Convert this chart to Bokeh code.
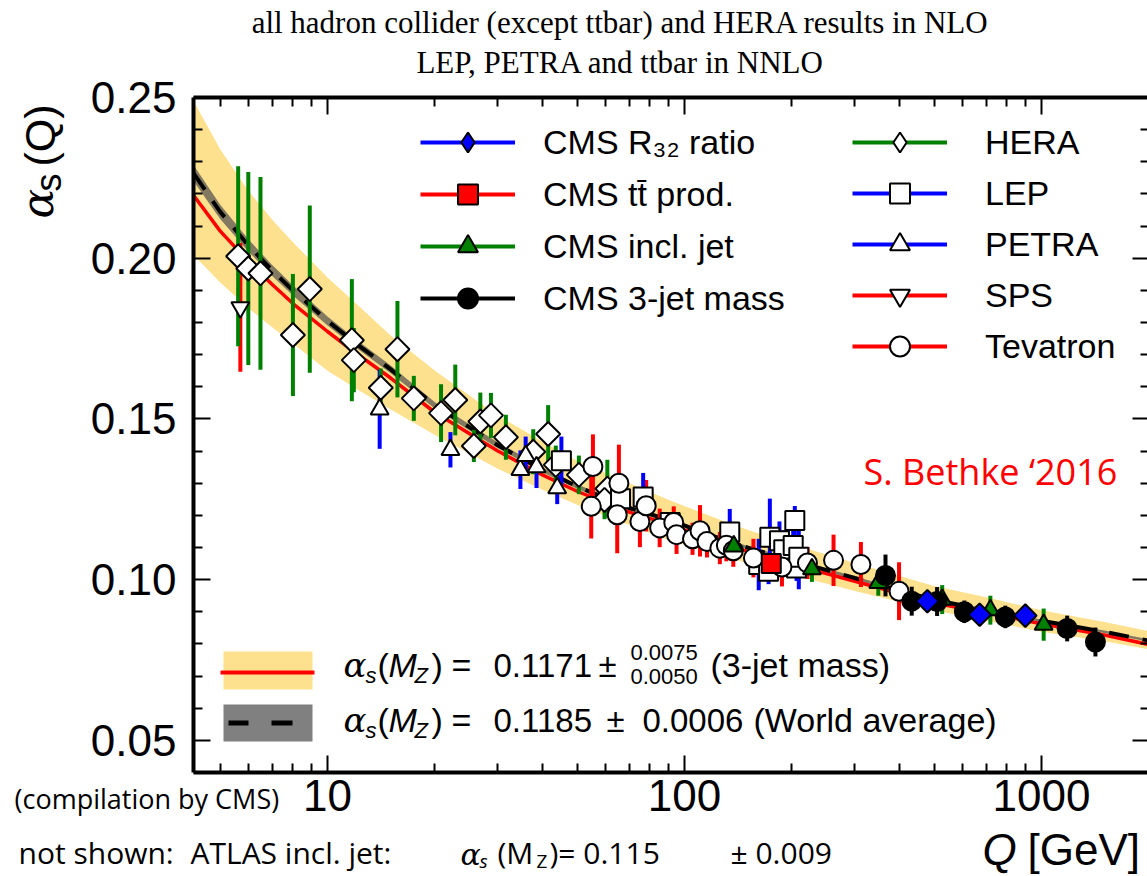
import math
import numpy as np
from bokeh.plotting import figure
from bokeh.models import (Range1d, FixedTicker, LogAxis, LinearAxis, PrintfTickFormatter,
                          Label, Legend, LegendItem, BoxAnnotation, ColumnDataSource)
from bokeh.embed import file_html
from bokeh.resources import INLINE

# ---------------- data ----------------
Q_curve = [4.213, 5, 6, 7, 8, 10, 12, 15, 20, 30, 40, 50, 70, 91.19, 120, 150, 200, 300, 500, 700, 1000, 1500, 2000]
fit_central = [0.2196, 0.2085, 0.1990, 0.1918, 0.1859, 0.1772, 0.1705, 0.1628, 0.1520, 0.1400, 0.1326, 0.1275,
               0.1210, 0.1171, 0.1122, 0.1088, 0.1048, 0.0995, 0.0927, 0.0897, 0.0863, 0.0828, 0.0798]
fit_hi = [0.2490, 0.2340, 0.2210, 0.2120, 0.2050, 0.1940, 0.1860, 0.1760, 0.1650, 0.1510, 0.1430, 0.1370,
          0.1300, 0.1246, 0.1195, 0.1155, 0.1110, 0.1052, 0.0980, 0.0945, 0.0905, 0.0868, 0.0840]
fit_lo = [0.2010, 0.1925, 0.1845, 0.1785, 0.1735, 0.1650, 0.1595, 0.1530, 0.1450, 0.1345, 0.1280, 0.1233,
          0.1170, 0.1121, 0.1082, 0.1052, 0.1015, 0.0965, 0.0905, 0.0872, 0.0838, 0.0808, 0.0783]
wa_central = [0.2265, 0.2145, 0.2040, 0.1962, 0.1900, 0.1805, 0.1735, 0.1655, 0.1542, 0.1418, 0.1342, 0.1290,
              0.1223, 0.1185, 0.1136, 0.1100, 0.1060, 0.1005, 0.0937, 0.0906, 0.0872, 0.0838, 0.0810]
wa_hi = [0.2290, 0.2167, 0.2059, 0.1979, 0.1916, 0.1819, 0.1748, 0.1667, 0.1552, 0.1427, 0.1350, 0.1297,
         0.1230, 0.1191, 0.1142, 0.1105, 0.1065, 0.1010, 0.0941, 0.0910, 0.0876, 0.0842, 0.0814]
wa_lo = [0.2240, 0.2123, 0.2021, 0.1945, 0.1884, 0.1791, 0.1722, 0.1643, 0.1532, 0.1409, 0.1334, 0.1283,
         0.1216, 0.1179, 0.1130, 0.1095, 0.1055, 0.1000, 0.0933, 0.0902, 0.0868, 0.0834, 0.0806]

hera_Q = [5.62, 6.0, 6.49, 8.0, 8.92, 11.7, 11.85, 15.7, 14.1, 17.45, 20.8, 22.8, 25.7, 26.8, 28.7, 31.6,
          37.7, 41.5, 43.6, 50.6, 60.8, 59.7]
hera_a = [0.2006, 0.1968, 0.1953, 0.1761, 0.1904, 0.1745, 0.1683, 0.1717, 0.1597, 0.1564, 0.1518, 0.1559,
          0.1416, 0.1492, 0.1511, 0.1443, 0.1398, 0.1453, 0.1357, 0.1326, 0.1283, 0.1248]
hera_e = [0.028, 0.030, 0.030, 0.019, 0.026, 0.019, 0.010, 0.015, 0.006, 0.007, 0.009, 0.011, 0.005, 0.009,
          0.007, 0.007, 0.007, 0.009, 0.006, 0.006, 0.009, 0.006]

petra_Q = [14.0, 22.1, 34.7, 35.9, 38.5, 44.0]
petra_a = [0.1530, 0.1404, 0.1342, 0.1385, 0.1350, 0.1285]
petra_e = [0.0123, 0.0055, 0.006, 0.006, 0.0065, 0.005]

sps_Q = [5.7]
sps_a = [0.1847]
sps_e = [0.020]

lep_Q = [45.2, 66.2, 76.6, 91.2, 133.9, 161.4, 173.4, 172.0, 184.5, 189.7, 201.6, 203.7, 206.0, 209.0]
lep_a = [0.1370, 0.1252, 0.1257, 0.1178, 0.1148, 0.1047, 0.1132, 0.1026, 0.1121, 0.1093, 0.1106, 0.1184,
         0.1036, 0.1070]
lep_e = [0.0075, 0.005, 0.0075, 0.002, 0.0072, 0.008, 0.012, 0.004, 0.006, 0.006, 0.006, 0.0045, 0.004, 0.010]

tev_Q = [54.8, 55.4, 64.8, 65.5, 75.0, 78.1, 85.2, 93.3, 95.0, 105.3, 110.5, 115.6, 125.6, 131.0, 137.0,
         156.0, 187.5, 221.0, 261.5, 312.0, 399.0]
tev_a = [0.1228, 0.1352, 0.1202, 0.1300, 0.1181, 0.1230, 0.1161, 0.1178, 0.1140, 0.1127, 0.1152, 0.1119,
         0.1098, 0.1107, 0.1090, 0.1067, 0.1039, 0.1052, 0.1060, 0.1047, 0.0964]
tev_e = [0.010, 0.010, 0.012, 0.012, 0.008, 0.008, 0.006, 0.005, 0.006, 0.005, 0.008, 0.005, 0.005, 0.005,
         0.005, 0.006, 0.006, 0.005, 0.008, 0.007, 0.009]

m3j_Q = [365.6, 433, 510, 608, 792, 1180, 1416]
m3j_a = [0.1013, 0.0933, 0.0932, 0.0900, 0.0884, 0.0848, 0.0806]
m3j_e = [0.0065, 0.0045, 0.0045, 0.0035, 0.0035, 0.004, 0.0045]

r32_Q = [479, 671, 901]
r32_a = [0.0933, 0.0891, 0.0888]
r32_e = [0.003, 0.003, 0.003]

incl_Q = [137.4, 227.5, 349, 527, 719, 1014]
incl_a = [0.1104, 0.1033, 0.0990, 0.0938, 0.0905, 0.0860]
incl_e = [0.004, 0.004, 0.004, 0.0045, 0.0045, 0.005]

tt_Q = [175]
tt_a = [0.1050]
tt_e = [0.003]

y_major = [0.05, 0.10, 0.15, 0.20, 0.25]
y_minor = [0.04, 0.06, 0.07, 0.08, 0.09, 0.11, 0.12, 0.13, 0.14, 0.16, 0.17, 0.18, 0.19, 0.21, 0.22, 0.23, 0.24]
x_major = [10, 100, 1000]
x_minor = [5, 6, 7, 8, 9, 20, 30, 40, 50, 60, 70, 80, 90, 200, 300, 400, 500, 600, 700, 800, 900, 2000]

# ---------------- geometry of the page ----------------
W, H = 1147, 876
AX_L, AX_T, AX_B = 193, 97, 772          # pixel positions of the left / top / bottom axes
PX_DECADE, PX_10 = 357.0, 327.0          # pixels per decade, pixel of Q=10
Y_LO, Y_HI = 0.04, 0.25                  # values at bottom / top axes
PX_PER_UNIT = (AX_B - AX_T) / (Y_HI - Y_LO)


def q_at(px):
    return 10 ** (1 + (px - PX_10) / PX_DECADE)


def a_at(py):
    return Y_HI + (AX_T - py) / PX_PER_UNIT


Q_LEFT = q_at(AX_L)
Q_RIGHT_AXIS = q_at(W + 2)

YEL = "#FDE18E"
GREEN = "#008000"
BLUE = "#0000FF"
RED = "#FF0000"

p = figure(width=W, height=H, x_axis_type="log",
           x_range=Range1d(q_at(0), q_at(W)), y_range=Range1d(a_at(H), a_at(0)),
           output_backend="svg", toolbar_location=None,
           min_border_left=0, min_border_top=0, min_border_bottom=0, min_border_right=0)
p.title.visible = False
p.xgrid.visible = False
p.ygrid.visible = False
p.outline_line_color = None
p.background_fill_color = "white"
p.border_fill_color = "white"


def style_axis(ax, show):
    ax.axis_line_width = 4
    ax.axis_line_color = "black"
    ax.major_tick_in = 17
    ax.major_tick_out = 0
    ax.minor_tick_in = 9
    ax.minor_tick_out = 0
    ax.major_tick_line_width = 2
    ax.minor_tick_line_width = 2
    ax.major_tick_line_color = "black"
    ax.minor_tick_line_color = "black"
    if show:
        ax.major_label_text_font = "Liberation Sans"
        ax.major_label_text_font_size = "44px"
        ax.major_label_text_color = "black"
    else:
        ax.major_label_text_font_size = "0px"
        ax.major_label_standoff = 0


for ax in p.xaxis:
    ax.ticker = FixedTicker(ticks=x_major, minor_ticks=x_minor)
    ax.formatter = PrintfTickFormatter(format="%d")
    style_axis(ax, True)
    ax.major_label_standoff = 7
    ax.fixed_location = Y_LO
    ax.bounds = (Q_LEFT, q_at(W + 10))
for ax in p.yaxis:
    ax.ticker = FixedTicker(ticks=y_major, minor_ticks=y_minor)
    ax.formatter = PrintfTickFormatter(format="%.2f")
    style_axis(ax, True)
    ax.major_label_standoff = 17
    ax.fixed_location = Q_LEFT
    ax.bounds = (Y_LO, Y_HI)

top_ax = LogAxis(ticker=FixedTicker(ticks=x_major, minor_ticks=x_minor), formatter=PrintfTickFormatter(format=" "))
style_axis(top_ax, False)
top_ax.fixed_location = Y_HI
top_ax.bounds = (Q_LEFT, q_at(W + 10))
p.add_layout(top_ax, "above")
right_ax = LinearAxis(ticker=FixedTicker(ticks=y_major, minor_ticks=y_minor), formatter=PrintfTickFormatter(format=" "))
style_axis(right_ax, False)
right_ax.fixed_location = Q_RIGHT_AXIS
right_ax.bounds = (Y_LO, Y_HI)
p.add_layout(right_ax, "right")

# ---------------- curves ----------------
p.varea(x=Q_curve, y1=fit_lo, y2=fit_hi, fill_color=YEL, fill_alpha=1.0, level="underlay")
p.varea(x=Q_curve, y1=wa_lo, y2=wa_hi, fill_color="#4d4d4d", fill_alpha=0.7, level="underlay")
p.line(x=Q_curve, y=fit_central, line_color=RED, line_width=3.5, level="underlay")
p.line(x=Q_curve, y=wa_central, line_color="black", line_width=4, line_dash="20 14", level="underlay")


# ---------------- data points ----------------
def src(q, a, e):
    a = np.array(a)
    e = np.array(e)
    return ColumnDataSource(dict(x=q, y=list(a), lo=list(a - e), hi=list(a + e)))


def bars(s, color):
    return p.segment(x0="x", y0="lo", x1="x", y1="hi", source=s, line_color=color, line_width=4)


def pts(s, marker, size, fill, angle=0.0):
    return p.scatter(x="x", y="y", source=s, marker=marker, size=size, fill_color=fill,
                     line_color="black", line_width=2, angle=angle)


s_tev = src(tev_Q, tev_a, tev_e)
s_lep = src(lep_Q, lep_a, lep_e)
s_petra = src(petra_Q, petra_a, petra_e)
s_sps = src(sps_Q, sps_a, sps_e)
s_hera = src(hera_Q, hera_a, hera_e)
s_incl = src(incl_Q, incl_a, incl_e)
s_tt = src(tt_Q, tt_a, tt_e)
s_m3j = src(m3j_Q, m3j_a, m3j_e)
s_r32 = src(r32_Q, r32_a, r32_e)

b_tev = bars(s_tev, RED)
b_lep = bars(s_lep, BLUE)
b_petra = bars(s_petra, BLUE)
b_sps = bars(s_sps, RED)
b_hera = bars(s_hera, GREEN)
b_incl = bars(s_incl, GREEN)
b_tt = bars(s_tt, RED)
b_m3j = bars(s_m3j, "black")
b_r32 = bars(s_r32, BLUE)

m_hera = pts(s_hera, "square", 17, "white", math.pi / 4)
m_petra = pts(s_petra, "triangle", 18, "white")
m_sps = pts(s_sps, "inverted_triangle", 18, "white")
m_lep = pts(s_lep, "square", 19, "white")
m_tev = pts(s_tev, "circle", 19, "white")
m_incl = pts(s_incl, "triangle", 18, GREEN)
m_tt = pts(s_tt, "square", 19, RED)
m_m3j = pts(s_m3j, "circle", 19, "black")
m_r32 = pts(s_r32, "square", 16, BLUE, math.pi / 4)

# legend-only diamond glyphs (the legend draws markers un-rotated); their one point lies off the page
offpage = dict(x=[q_at(-200)], y=[a_at(H + 200)])
lg_hera = p.scatter(x="x", y="y", source=ColumnDataSource(offpage), marker="diamond", size=20,
                    fill_color="white", line_color="black", line_width=2)
lg_r32 = p.scatter(x="x", y="y", source=ColumnDataSource(offpage), marker="diamond", size=20,
                   fill_color=BLUE, line_color="black", line_width=2)


# ---------------- legends ----------------
def make_legend(items, loc, standoff, spacing):
    lg = Legend(items=items, location=loc, glyph_width=95, glyph_height=50, spacing=spacing,
                padding=0, margin=0, border_line_color=None, background_fill_alpha=0,
                label_standoff=standoff, label_text_font="Liberation Sans",
                label_text_font_size="34px", label_text_color="black")
    p.add_layout(lg)
    return lg


make_legend([
    LegendItem(label="CMS R\u2083\u2082 ratio", renderers=[b_r32, lg_r32]),
    LegendItem(label="CMS t\u0074\u0304 prod.", renderers=[b_tt, m_tt]),
    LegendItem(label="CMS incl. jet", renderers=[b_incl, m_incl]),
    LegendItem(label="CMS 3-jet mass", renderers=[b_m3j, m_m3j]),
], (420, H - 323), 28, 2)

make_legend([
    LegendItem(label="HERA", renderers=[b_hera, lg_hera]),
    LegendItem(label="LEP", renderers=[b_lep, m_lep]),
    LegendItem(label="PETRA", renderers=[b_petra, m_petra]),
    LegendItem(label="SPS", renderers=[b_sps, m_sps]),
    LegendItem(label="Tevatron", renderers=[b_tev, m_tev]),
], (852, H - 371), 38, 1)


def box(l, r, t, b, color):
    p.add_layout(BoxAnnotation(left=l, right=r, top=H - t, bottom=H - b,
                               left_units="screen", right_units="screen",
                               top_units="screen", bottom_units="screen",
                               fill_color=color, fill_alpha=1.0, line_color=None, level="overlay"))


box(223, 312, 651, 689, YEL)
box(220, 314, 670, 674, RED)
box(223, 312, 704, 741, "#808080")
box(228, 248, 720, 725, "black")
box(271, 292, 720, 725, "black")

# ---------------- texts ----------------
# distance from em-box middle to the alphabetic baseline, per font (in em)
KMID = {"Liberation Sans": 0.3465, "Liberation Serif": 0.3375, "DejaVu Serif": 0.346, "Open Sans": 0.388}


def lab(text, cx, base, size, font="Liberation Sans", color="black", style="normal", align="left", vertical=False):
    k = KMID[font] * size
    if vertical:
        x, y, ang = cx - k, H - base, math.pi / 2
    else:
        x, y, ang = cx, H - (base - k), 0.0
    p.add_layout(Label(x=x, y=y, x_units="screen", y_units="screen", text=text,
                       text_font=font, text_font_size=f"{size}px", text_font_style=style,
                       text_color=color, text_align=align, text_baseline="middle", angle=ang))


lab("all hadron collider (except ttbar) and HERA results in NLO", 620, 32, 31, font="Liberation Serif", align="center")
lab("LEP, PETRA and ttbar in NNLO", 620, 72, 31, font="Liberation Serif", align="center")

# y axis label  alpha_s(Q)  (vertical: "base" is the start along the text, cx is the baseline x)
lab("\u03b1", 52, 218, 44, font="DejaVu Serif", style="italic", vertical=True)
lab("s", 60, 191, 36, vertical=True)
lab("(Q)", 54, 166, 43, vertical=True)

# x axis label
lab("Q", 982, 864, 44, style="italic")
lab("[GeV]", 1027, 864, 44)

lab("S. Bethke \u20182016", 863, 485, 36, font="Open Sans", color=RED)
lab("(compilation by CMS)", 14, 808, 27, font="Open Sans")

# bottom note (kept fully inside the page)
NB = 864
lab("not shown:", 18, NB, 30, font="Open Sans")
lab("ATLAS incl. jet:", 190, NB, 30, font="Open Sans")
lab("\u03b1", 460, NB, 30, font="DejaVu Serif", style="italic")
lab("s", 479, NB + 4, 19, font="Open Sans", style="italic")
lab("(M", 497, NB, 30, font="Open Sans")
lab("Z", 536, NB + 4, 19, font="Open Sans")
lab(")= 0.115", 549, NB, 30, font="Open Sans")
lab("\u00b1 0.009", 730, NB, 30, font="Open Sans")


def alpha_mz(base):
    lab("\u03b1", 343, base, 34, font="DejaVu Serif", style="italic")
    lab("s", 365, base + 7, 22, style="italic")
    lab("(", 377, base, 34)
    lab("M", 388, base, 34, style="italic")
    lab("Z", 414, base + 7, 22, style="italic")
    lab(")", 431, base, 34)
    lab("=", 451, base, 34)


alpha_mz(676)
lab("0.1171", 493, 676, 33)
lab("\u00b1", 598, 676, 33)
lab("0.0075", 630, 660, 22)
lab("0.0050", 630, 684, 22)
lab("(3-jet mass)", 710, 676, 34)

alpha_mz(731)
lab("0.1185", 493, 731, 33)
lab("\u00b1", 606, 731, 33)
lab("0.0006", 642, 731, 33)
lab("(World average)", 753, 731, 34)

open("out.html", "w").write(file_html(p, INLINE))
